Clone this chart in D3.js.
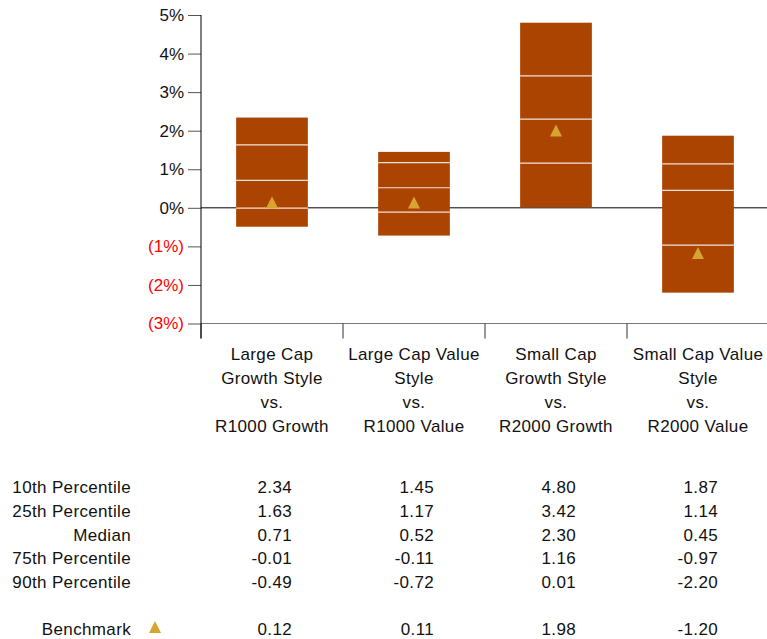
<!DOCTYPE html>
<html>
<head>
<meta charset="utf-8">
<script src="https://cdn.jsdelivr.net/npm/d3@7/dist/d3.min.js"></script>
<style>
  html, body { margin: 0; padding: 0; background: #fff; }
  svg { display: block; font-family: "Liberation Sans", Arial, sans-serif; }
  .lbl { letter-spacing: 0.35px; }
</style>
</head>
<body>
<svg id="chart" width="767" height="639"></svg>
<script>
// Style universe percentile ranges (excess return, %)
const categories = [
  ["Large Cap", "Growth Style", "vs.", "R1000 Growth"],
  ["Large Cap Value", "Style", "vs.", "R1000 Value"],
  ["Small Cap", "Growth Style", "vs.", "R2000 Growth"],
  ["Small Cap Value", "Style", "vs.", "R2000 Value"]
];
const p10 = [2.34, 1.45, 4.80, 1.87];
const p25 = [1.63, 1.17, 3.42, 1.14];
const median = [0.71, 0.52, 2.30, 0.45];
const p75 = [-0.01, -0.11, 1.16, -0.97];
const p90 = [-0.49, -0.72, 0.01, -2.20];
const benchmark = [0.12, 0.11, 1.98, -1.20];
const yTicks = [-3, -2, -1, 0, 1, 2, 3, 4, 5];
const rowLabels = ["10th Percentile", "25th Percentile", "Median", "75th Percentile", "90th Percentile"];

const BAR = "#aa4400";
const GOLD = "#d9a330";
const FONT = 17;

const svg = d3.select("#chart");
const keys = categories.map((c, i) => i);

const x = d3.scaleBand().domain(keys).range([201, 769]).padding(0);
const y = d3.scaleLinear().domain([-3, 5]).range([323.5, 15]);

// zero line (under the bars)
svg.append("line")
  .attr("x1", 201).attr("x2", 767)
  .attr("y1", y(0)).attr("y2", y(0))
  .attr("stroke", "#000").attr("stroke-width", 1);

// bottom baseline
svg.append("line")
  .attr("x1", 201).attr("x2", 767)
  .attr("y1", y(-3)).attr("y2", y(-3))
  .attr("stroke", "#777").attr("stroke-width", 1);

// category separators
svg.selectAll("line.sep").data(keys).enter().append("line")
  .attr("class", "sep")
  .attr("x1", d => x(d)).attr("x2", d => x(d))
  .attr("y1", y(-3)).attr("y2", y(-3) + 15)
  .attr("stroke", "#333").attr("stroke-width", 1);

// y axis
const yAxis = d3.axisLeft(y)
  .tickValues(yTicks)
  .tickSize(13)
  .tickPadding(4)
  .tickFormat(d => d < 0 ? `(${-d}%)` : `${d}%`);

const gy = svg.append("g").attr("transform", "translate(201,0)").call(yAxis);
gy.select(".domain").remove();
gy.selectAll(".tick line").attr("stroke", "#555");
gy.selectAll(".tick text")
  .attr("font-size", 17)
  .attr("font-family", "Liberation Sans, Arial, sans-serif")
  .attr("fill", d => d < 0 ? "#ff0000" : "#111");

svg.append("line")
  .attr("x1", 201).attr("x2", 201)
  .attr("y1", y(5)).attr("y2", y(-3) + 15)
  .attr("stroke", "#000").attr("stroke-width", 1);

// floating bars: 90th to 10th percentile
const bw = x.bandwidth() * 0.505;
const cx = d => x(d) + x.bandwidth() / 2;

svg.selectAll("rect.bar").data(keys).enter().append("rect")
  .attr("class", "bar")
  .attr("x", d => cx(d) - bw / 2)
  .attr("width", bw)
  .attr("y", d => y(p10[d]))
  .attr("height", d => y(p90[d]) - y(p10[d]))
  .attr("fill", BAR);

// quartile and median dividers
[p25, median, p75].forEach(arr => {
  svg.append("g").selectAll("line").data(keys).enter().append("line")
    .attr("x1", d => cx(d) - bw / 2).attr("x2", d => cx(d) + bw / 2)
    .attr("y1", d => y(arr[d])).attr("y2", d => y(arr[d]))
    .attr("stroke", "#ffffff").attr("stroke-width", 1.2)
    .attr("stroke-opacity", 0.85);
});

// benchmark markers
const tri = (px, py) => `M${px},${py - 6}L${px + 6},${py + 6}L${px - 6},${py + 6}Z`;
svg.selectAll("path.bm").data(keys).enter().append("path")
  .attr("class", "bm")
  .attr("d", d => tri(cx(d), y(benchmark[d]) - 1))
  .attr("fill", GOLD);

// category labels
const lab = svg.selectAll("text.cat").data(keys).enter().append("text")
  .attr("class", "cat lbl")
  .attr("text-anchor", "middle")
  .attr("font-size", FONT)
  .attr("fill", "#111");
lab.selectAll("tspan").data(d => categories[d].map(t => ({ t, d }))).enter().append("tspan")
  .attr("x", o => cx(o.d))
  .attr("y", (o, i) => 360 + i * 24)
  .text(o => o.t);

// data table
const rowY = [493, 517, 540.5, 564, 588];
const series = [p10, p25, median, p75, p90];

svg.selectAll("text.row").data(rowLabels).enter().append("text")
  .attr("class", "row lbl")
  .attr("x", 131).attr("y", (d, i) => rowY[i])
  .attr("text-anchor", "end")
  .attr("font-size", FONT).attr("fill", "#111")
  .text(d => d);

series.forEach((arr, r) => {
  svg.append("g").selectAll("text").data(keys).enter().append("text")
    .attr("class", "lbl")
    .attr("x", d => cx(d) + 20).attr("y", rowY[r])
    .attr("text-anchor", "end")
    .attr("font-size", FONT).attr("fill", "#111")
    .text(d => arr[d].toFixed(2));
});

const benchY = 634.5;
svg.append("text")
  .attr("class", "lbl")
  .attr("x", 131).attr("y", benchY)
  .attr("text-anchor", "end")
  .attr("font-size", FONT).attr("fill", "#111")
  .text("Benchmark");
svg.append("path").attr("d", tri(155, benchY - 7.5)).attr("fill", GOLD);
svg.append("g").selectAll("text").data(keys).enter().append("text")
  .attr("class", "lbl")
  .attr("x", d => cx(d) + 20).attr("y", benchY)
  .attr("text-anchor", "end")
  .attr("font-size", FONT).attr("fill", "#111")
  .text(d => benchmark[d].toFixed(2));
</script>
</body>
</html>
